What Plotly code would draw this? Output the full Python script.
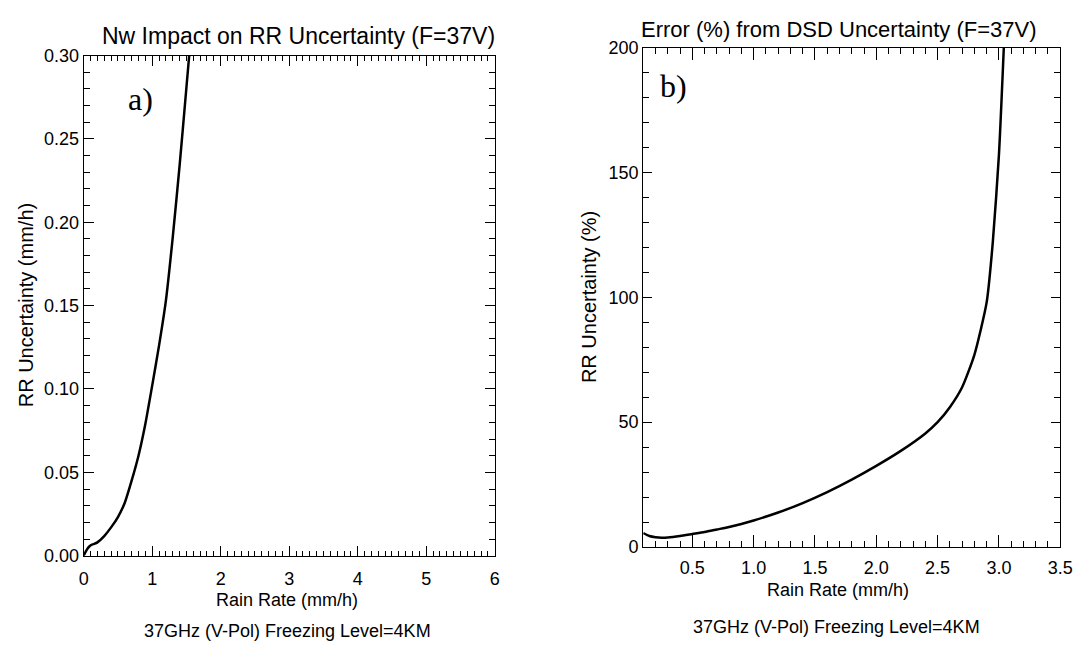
import plotly.graph_objects as go

# Panel a) Nw impact on RR uncertainty
rr_a = [0.0, 0.03, 0.06, 0.09, 0.12, 0.16, 0.2, 0.3, 0.4, 0.5, 0.6, 0.7, 0.8, 0.9, 1.0, 1.1, 1.2, 1.3, 1.4, 1.5, 1.54]
unc_a = [0.0, 0.0025, 0.0045, 0.0058, 0.0066, 0.0072, 0.0080, 0.0118, 0.0170, 0.0232, 0.0318, 0.0450, 0.0600, 0.0790, 0.1020, 0.1260, 0.1530, 0.1910, 0.2340, 0.2810, 0.3000]

# Panel b) Error (%) from DSD uncertainty
rr_b = [0.1, 0.15, 0.2, 0.25, 0.3, 0.4, 0.5, 0.6, 0.7, 0.8, 0.9, 1.0, 1.2, 1.4, 1.6, 1.8, 2.0, 2.2, 2.4, 2.5, 2.6, 2.7, 2.8, 2.9, 2.95, 3.0, 3.04]
unc_b = [5.6, 4.4, 3.9, 3.7, 3.8, 4.4, 5.2, 6.0, 7.0, 8.0, 9.2, 10.6, 13.8, 17.6, 22.0, 27.0, 32.5, 38.5, 45.5, 50.0, 56.0, 64.0, 77.0, 98.0, 122.0, 157.0, 200.0]

title_a = "Nw Impact on RR Uncertainty (F=37V)"
title_b = "Error (%) from DSD Uncertainty (F=37V)"
xlabel = "Rain Rate (mm/h)"
ylabel_a = "RR Uncertainty (mm/h)"
ylabel_b = "RR Uncertainty (%)"
caption = "37GHz (V-Pol) Freezing Level=4KM"

W, H = 1087, 651
FONT = "Liberation Sans, Arial, sans-serif"
SERIF = "Liberation Serif, Times New Roman, serif"

def px(x):
    return x / W

def py(y):
    return 1 - y / H

# panel frames (pixels)
ax_l = (80, 498)
ay_l = (47, 563)
bx_l = (649, 1073)
by_l = (39, 554)

fig = go.Figure()
line = dict(color="black", width=2.5, shape="spline", smoothing=0.6)
fig.add_trace(go.Scatter(x=rr_a, y=unc_a, mode="lines", line=line, xaxis="x", yaxis="y", showlegend=False))
fig.add_trace(go.Scatter(x=rr_b, y=unc_b, mode="lines", line=line, xaxis="x2", yaxis="y2", showlegend=False))

major = dict(showgrid=False, zeroline=False, showline=True, linecolor="black", linewidth=1.2,
             mirror="allticks", ticks="inside", tickcolor="black", tickwidth=1.2,
             tickfont=dict(family=FONT, size=18, color="black"), tickmode="linear", tick0=0)

def minor(dt, ln):
    return dict(ticks="inside", ticklen=ln, tickcolor="black", tickwidth=1.2, dtick=dt, tick0=0, showgrid=False)

fig.update_layout(
    width=W, height=H,
    margin=dict(l=0, r=0, t=0, b=0),
    paper_bgcolor="white", plot_bgcolor="white",
    xaxis=dict(domain=[px(ax_l[0]), px(ax_l[1])], range=[0, 6], anchor="y", dtick=1, ticklen=10,
               minor=minor(0.1, 5), ticklabelstandoff=7, **major),
    yaxis=dict(domain=[py(ay_l[1]), py(ay_l[0])], range=[0, 0.30], anchor="x", dtick=0.05, tickformat=".2f",
               ticklen=10, minor=minor(0.01, 6), **major),
    xaxis2=dict(domain=[px(bx_l[0]), px(bx_l[1])], range=[0.1, 3.5], anchor="y2", dtick=0.5, tickformat=".1f",
                ticklen=12, minor=minor(0.1, 6), ticklabelstandoff=4, **major),
    yaxis2=dict(domain=[py(by_l[1]), py(by_l[0])], range=[0, 200], anchor="x2", dtick=50, ticklen=9,
                minor=minor(10, 6), **major),
)

ann = []
def text(x, y, s, size=18, family=FONT, angle=0):
    ann.append(dict(x=px(x), y=py(y), xref="paper", yref="paper", text=s, showarrow=False,
                    font=dict(family=family, size=size, color="black"), textangle=angle,
                    xanchor="center", yanchor="middle"))

text(298, 27, title_a, size=23)
text(848, 20, title_b, size=22)
text(287, 609, xlabel)
text(847, 598, xlabel)
text(287, 641, caption)
text(845, 637, caption)
text(21, 305, ylabel_a, size=20, angle=-90)
text(594, 296, ylabel_b, size=20, angle=-90)
text(138, 92, "a)", size=32, family=SERIF)
text(680, 78, "b)", size=32, family=SERIF)

fig.update_layout(annotations=ann)
fig.write_html("out.html")
